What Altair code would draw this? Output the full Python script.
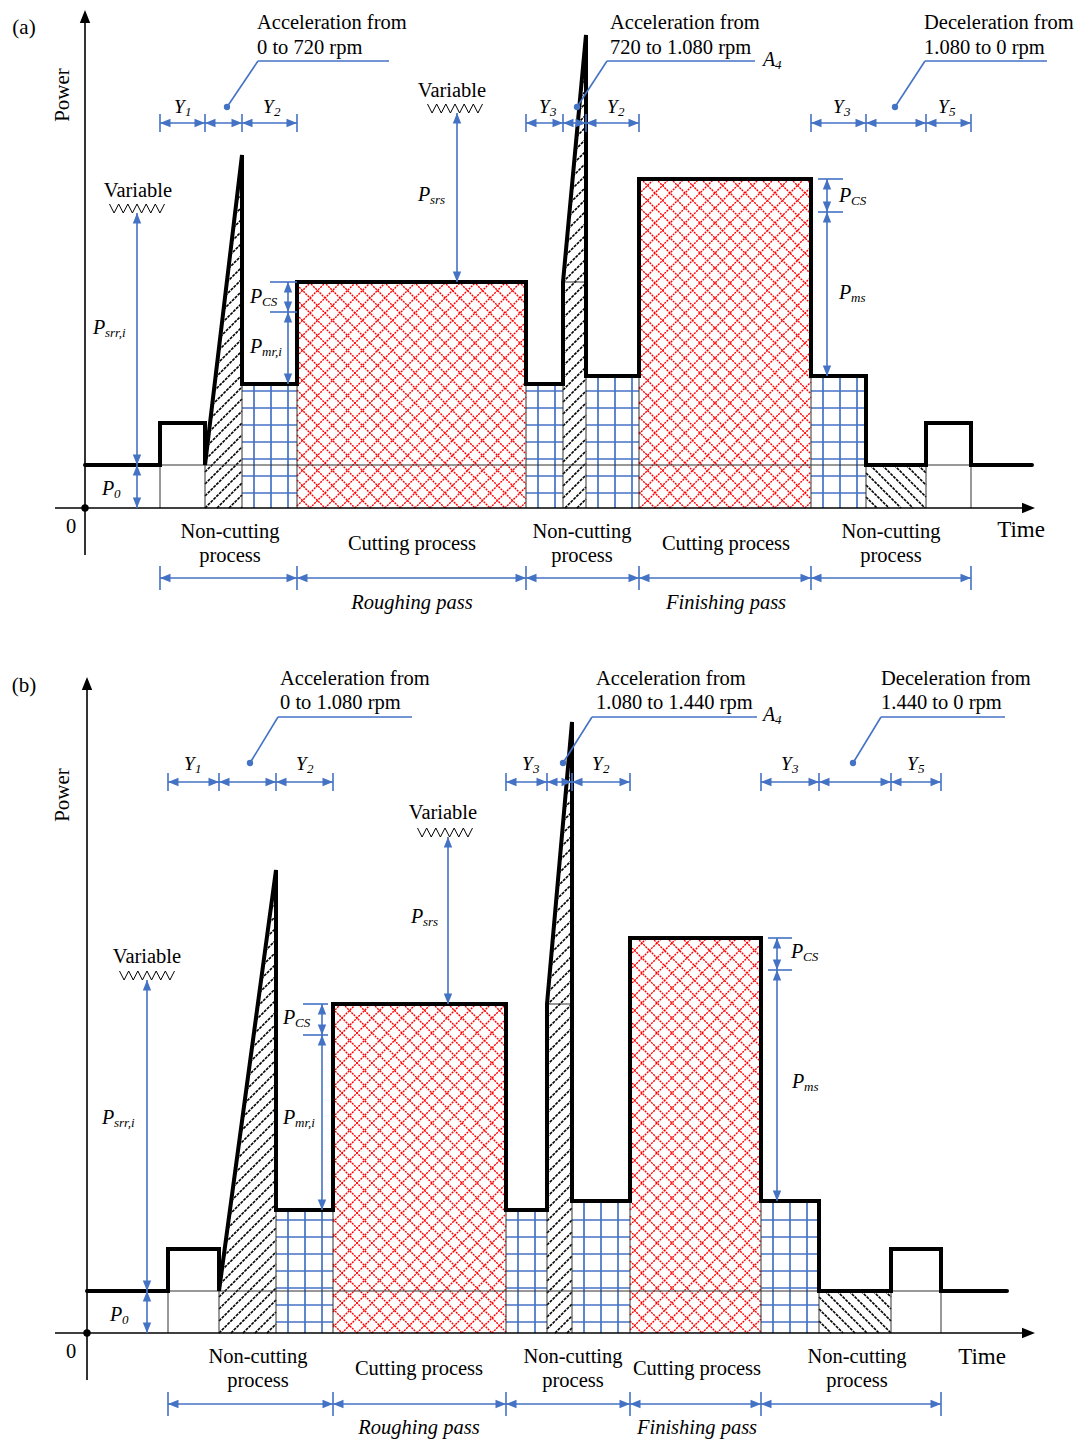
import math
import altair as alt
import pandas as pd

BLUE = "#4472C4"
RED = "#FF0000"
FONT = "Liberation Serif"

# ================= Panel (a) =================
A_BREAKS = [75, 120, 157, 212, 441, 478, 501, 554, 726, 781, 841, 886, 947]
A_LEVELS = {"idle": 43, "bump": 85, "nc_r": 124, "nc_f": 132,
            "rough": 226, "finish": 329, "peak1": 353, "peak2": 473}
A_SPEED_TEXT = [["Acceleration from", "0 to 720 rpm"],
                ["Acceleration from", "720 to 1.080 rpm"],
                ["Deceleration from", "1.080 to 0 rpm"]]

# ================= Panel (b) =================
B_BREAKS = [81, 132, 189, 246, 419, 460, 485, 543, 674, 732, 804, 854, 920]
B_LEVELS = {"idle": 42, "bump": 84, "nc_r": 123, "nc_f": 132,
            "rough": 329, "finish": 395, "peak1": 463, "peak2": 611}
B_SPEED_TEXT = [["Acceleration from", "0 to 1.080 rpm"],
                ["Acceleration from", "1.080 to 1.440 rpm"],
                ["Deceleration from", "1.440 to 0 rpm"]]

Y_SUBS = ["1", "2", "3", "2", "3", "5"]
PROCESS_TEXT = ["Non-cutting|process", "Cutting process", "Non-cutting|process",
                "Cutting process", "Non-cutting|process"]
PASS_TEXT = ["Roughing pass", "Finishing pass"]

A_LAYOUT = dict(
    tag="(a)", tag_pos=(-61, 480), tdom=[-85, 991], pdom=[-152, 508], height=660,
    y_top=498, x_left=-30, x_right=950, y_bottom=-47,
    power_pos=(-22, 413), zero_pos=(-14, -19), time_pos=(936, -22),
    ydim_P=385, ylab_P=401, ylab_t=[98, 187, 463, 531, 757, 862],
    dots_t=[142, 492, 810], dot_P=401, corner_t=[173, 522, 840], leader_P=447,
    leader_end=[304, 670, 962], speed_t=[172, 525, 839], speed_P=[485, 460],
    a4=(678, 448),
    var=[(52, 43, 295, 53, 317), (372, 226, 395, 367, 417)],
    zig_t=[52, 370], p0_arrow=(52, 0, 43),
    lab_p0=(17, 19), lab_srr=(8, 180), lab_srs=(333, 313),
    cs_left=(203, [226, 196, 124], (185, 212)), lab_cs_l=(165, 211), lab_mr=(165, 161),
    cs_right=(742, [329, 296, 132], (733, 758)), lab_cs_r=(754, 312), lab_ms=(754, 215),
    bot_P=-70, proc_t=[145, 327, 497, 641, 806], pass_t=[327, 641], pass_P=-95,
    grid_pphase=15,
)

B_LAYOUT = dict(
    tag="(b)", tag_pos=(-63, 647), tdom=[-87, 989], pdom=[-107, 673], height=780,
    y_top=656, x_left=-32, x_right=948, y_bottom=-47,
    power_pos=(-24, 538), zero_pos=(-16, -19), time_pos=(895, -24),
    ydim_P=551, ylab_P=569, ylab_t=[106, 218, 444, 514, 703, 829],
    dots_t=[163, 476, 766], dot_P=570, corner_t=[191, 505, 794], leader_P=616,
    leader_end=[325, 670, 918], speed_t=[193, 509, 794], speed_P=[654, 630],
    a4=(676, 618),
    var=[(60, 42, 353, 60, 376), (361, 329, 496, 356, 520)],
    zig_t=[60, 358], p0_arrow=(60, 0, 42),
    lab_p0=(23, 18), lab_srr=(15, 215), lab_srs=(324, 416),
    cs_left=(235, [329, 298, 123], (216, 241)), lab_cs_l=(196, 315), lab_mr=(196, 215),
    cs_right=(690, [395, 363, 132], (681, 705)), lab_cs_r=(704, 381), lab_ms=(705, 251),
    bot_P=-71, proc_t=[171, 332, 486, 610, 770], pass_t=[332, 610], pass_P=-95,
    grid_pphase=11,
)

HEAD = "M0,0L-2,-0.8L-2,0.8Z"


def clip_line(poly, p0, d):
    ss = []
    n = len(poly)
    for i in range(n):
        a = poly[i]
        b = poly[(i + 1) % n]
        e = (b[0] - a[0], b[1] - a[1])
        den = d[0] * e[1] - d[1] * e[0]
        if abs(den) < 1e-12:
            continue
        w = (a[0] - p0[0], a[1] - p0[1])
        s = (w[0] * e[1] - w[1] * e[0]) / den
        u = (w[0] * d[1] - w[1] * d[0]) / den
        if -1e-9 <= u <= 1 + 1e-9:
            ss.append(s)
    if len(ss) < 2:
        return None
    s0, s1 = min(ss), max(ss)
    if s1 - s0 < 0.5:
        return None
    return (p0[0] + s0 * d[0], p0[1] + s0 * d[1], p0[0] + s1 * d[0], p0[1] + s1 * d[1])


def hatch(poly, direction, spacing, phase=0.0):
    ts = [p[0] for p in poly]
    ps = [p[1] for p in poly]
    if direction == 1:
        cmin, cmax, d = min(ts) - max(ps), max(ts) - min(ps), (1, 1)
    else:
        cmin, cmax, d = min(ts) + min(ps), max(ts) + max(ps), (1, -1)
    out = []
    k0 = math.floor((cmin - phase) / spacing)
    k1 = math.ceil((cmax - phase) / spacing)
    for k in range(k0, k1 + 1):
        c = phase + k * spacing
        seg = clip_line(poly, (c, 0), d)
        if seg:
            out.append(seg)
    return out


def rect(t0, t1, top):
    return [(t0, 0), (t1, 0), (t1, top), (t0, top)]


def panel(b, L, S):
    tdom, pdom = S["tdom"], S["pdom"]

    def X(f="t"):
        return alt.X(f"{f}:Q", scale=alt.Scale(domain=tdom, nice=False, zero=False), axis=None)

    def Y(f="P"):
        return alt.Y(f"{f}:Q", scale=alt.Scale(domain=pdom, nice=False, zero=False), axis=None)

    def rules(rows, **style):
        df = pd.DataFrame(rows, columns=["t", "P", "t2", "P2"])
        return alt.Chart(df).mark_rule(**style).encode(
            x=X(), y=Y(), x2=alt.X2("t2:Q"), y2=alt.Y2("P2:Q"))

    def heads(rows, color, size):
        df = pd.DataFrame(rows, columns=["t", "P", "ang"])
        return alt.Chart(df).mark_point(
            shape=HEAD, filled=True, size=size, color=color, opacity=1, strokeWidth=0
        ).encode(x=X(), y=Y(), angle=alt.Angle("ang:Q", scale=None))

    def texts(rows, **style):
        df = pd.DataFrame(rows, columns=["txt", "t", "P"])
        st = dict(font=FONT, baseline="middle", color="black")
        st.update(style)
        return alt.Chart(df).mark_text(**st).encode(x=X(), y=Y(), text="txt:N")

    # ---- regions ----
    grid_rects = [(b[2], b[3], L["nc_r"]), (b[4], b[5], L["nc_r"]),
                  (b[6], b[7], L["nc_f"]), (b[8], b[9], L["nc_f"])]
    red_rects = [(b[3], b[4], L["rough"]), (b[7], b[8], L["finish"])]
    ramps = [[(b[1], 0), (b[2], 0), (b[2], L["peak1"]), (b[1], L["idle"])],
             [(b[5], 0), (b[6], 0), (b[6], L["peak2"]), (b[5], L["rough"])]]
    decel = rect(b[9], b[10], L["idle"])

    red_rows = []
    for t0, t1, top in red_rects:
        poly = rect(t0, t1, top)
        red_rows += hatch(poly, 1, 15, 0) + hatch(poly, -1, 15, 0)

    grid_rows = []
    for t0, t1, top in grid_rects:
        t = t0 + 12
        while t < t1 - 3:
            grid_rows.append((t, 0, t, top))
            t += 17
        p = S["grid_pphase"]
        while p < top - 3:
            grid_rows.append((t0, p, t1, p))
            p += 17

    black_rows = []
    for poly in ramps:
        black_rows += hatch(poly, 1, 12, 0)
    dec_rows = hatch(decel, -1, 12, 0)

    thin_rows = [(0, L["idle"], b[12], L["idle"])]
    edge_tops = [L["idle"], L["idle"], L["nc_r"], L["nc_r"], L["nc_r"], L["nc_r"],
                 L["nc_f"], L["nc_f"], L["nc_f"], L["idle"], L["idle"], L["idle"]]
    for i in range(12):
        thin_rows.append((b[i], 0, b[i], edge_tops[i]))
    thin_rows.append((b[5], L["rough"], b[6], L["rough"]))

    # ---- outline ----
    pts = [(0, L["idle"]), (b[0], L["idle"]), (b[0], L["bump"]), (b[1], L["bump"]), (b[1], L["idle"]),
           (b[2], L["peak1"]), (b[2], L["nc_r"]), (b[3], L["nc_r"]), (b[3], L["rough"]),
           (b[4], L["rough"]), (b[4], L["nc_r"]), (b[5], L["nc_r"]), (b[5], L["rough"]),
           (b[6], L["peak2"]), (b[6], L["nc_f"]), (b[7], L["nc_f"]), (b[7], L["finish"]),
           (b[8], L["finish"]), (b[8], L["nc_f"]), (b[9], L["nc_f"]), (b[9], L["idle"]),
           (b[10], L["idle"]), (b[10], L["bump"]), (b[11], L["bump"]), (b[11], L["idle"]), (b[12], L["idle"])]
    out_df = pd.DataFrame([(i, t, p) for i, (t, p) in enumerate(pts)], columns=["i", "t", "P"])

    # ---- annotations ----
    blue_rows, blue_heads = [], []

    def hdim(t0, t1, P):
        blue_rows.append((t0, P, t1, P))
        blue_heads.append((t0, P, 180))
        blue_heads.append((t1, P, 0))

    def vdim(t, p0, p1):
        blue_rows.append((t, p0, t, p1))
        blue_heads.append((t, p0, 90))
        blue_heads.append((t, p1, 270))

    P = S["ydim_P"]
    for g in range(3):
        idx = b[4 * g: 4 * g + 4]
        for k in range(3):
            hdim(idx[k], idx[k + 1], P)
        for tt in idx:
            blue_rows.append((tt, P - 9, tt, P + 9))
    P = S["bot_P"]
    bot_idx = [b[0], b[3], b[4], b[7], b[8], b[11]]
    for k in range(5):
        hdim(bot_idx[k], bot_idx[k + 1], P)
    for tt in bot_idx:
        blue_rows.append((tt, P - 12, tt, P + 12))
    dot_rows = []
    for g in range(3):
        dot_rows.append((S["dots_t"][g], S["dot_P"]))
        blue_rows.append((S["dots_t"][g], S["dot_P"], S["corner_t"][g], S["leader_P"]))
        blue_rows.append((S["corner_t"][g], S["leader_P"], S["leader_end"][g], S["leader_P"]))
    zig_rows = []
    for j, (ta, pb, ptop, tt, pt) in enumerate(S["var"]):
        vdim(ta, pb, ptop)
        zc = S["zig_t"][j]
        n = 12
        w = 55
        for k in range(n + 1):
            zig_rows.append((j, k, zc - w / 2 + w * k / n, ptop + (9 if k % 2 == 0 else 0)))
    t0a, pa, pb_ = S["p0_arrow"]
    vdim(t0a, pa, pb_)
    for key in ("cs_left", "cs_right"):
        ta, lv, (tk0, tk1) = S[key]
        vdim(ta, lv[1], lv[0])
        vdim(ta, lv[2], lv[1])
        blue_rows.append((tk0, lv[0], tk1, lv[0]))
        blue_rows.append((tk0, lv[1], tk1, lv[1]))

    axis_rows = [(0, S["y_bottom"], 0, S["y_top"] - 4), (S["x_left"], 0, S["x_right"] - 4, 0)]
    axis_heads = [(0, S["y_top"], 270), (S["x_right"], 0, 0)]

    upright = []
    for k, txt in enumerate(PROCESS_TEXT):
        parts = txt.split("|")
        if len(parts) == 2:
            upright.append((parts[0], S["proc_t"][k], -24))
            upright.append((parts[1], S["proc_t"][k], -48))
        else:
            upright.append((parts[0], S["proc_t"][k], -36))
    upright.append(("Variable", S["var"][0][3], S["var"][0][4]))
    upright.append(("Variable", S["var"][1][3], S["var"][1][4]))
    upright.append(("0", S["zero_pos"][0], S["zero_pos"][1]))

    speed = []
    for g in range(3):
        for li in range(2):
            speed.append((S["speed_text"][g][li], S["speed_t"][g], S["speed_P"][li]))

    italic_pass = [(PASS_TEXT[k], S["pass_t"][k], S["pass_P"]) for k in range(2)]

    ymain = [("Y", S["ylab_t"][k] - 9, S["ylab_P"]) for k in range(6)]
    ysub = [(Y_SUBS[k], S["ylab_t"][k] - 9, S["ylab_P"]) for k in range(6)]

    plabs = [("srr,i", "lab_srr"), ("0", "lab_p0"), ("srs", "lab_srs"), ("CS", "lab_cs_l"),
             ("mr,i", "lab_mr"), ("CS", "lab_cs_r"), ("ms", "lab_ms")]
    pmain = [("P", S[k][0], S[k][1]) for _, k in plabs] + [("A", S["a4"][0], S["a4"][1])]
    psub = [(s, S[k][0], S[k][1]) for s, k in plabs] + [("4", S["a4"][0], S["a4"][1])]

    zig_df = pd.DataFrame(zig_rows, columns=["g", "k", "t", "P"])
    dots_df = pd.DataFrame(dot_rows, columns=["t", "P"])

    layers = [
        rules(red_rows, color=RED, strokeWidth=1.4, strokeDash=[2, 1]),
        rules(grid_rows, color=BLUE, strokeWidth=1.7),
        rules(black_rows, color="black", strokeWidth=1.6, strokeDash=[3, 1]),
        rules(dec_rows, color="black", strokeWidth=1.6, strokeDash=[3, 1]),
        rules(thin_rows, color="#333333", strokeWidth=1),
        alt.Chart(out_df).mark_line(color="black", strokeWidth=4, strokeJoin="miter",
                                    strokeCap="round").encode(x=X(), y=Y(), order="i:Q"),
        rules(axis_rows, color="black", strokeWidth=1.6),
        heads(axis_heads, "black", 169),
        alt.Chart(pd.DataFrame([(0, 0)], columns=["t", "P"])).mark_circle(
            size=55, color="black", opacity=1).encode(x=X(), y=Y()),
        rules(blue_rows, color=BLUE, strokeWidth=1.6),
        heads(blue_heads, BLUE, 110),
        alt.Chart(dots_df).mark_circle(size=40, color=BLUE, opacity=1).encode(x=X(), y=Y()),
        alt.Chart(zig_df).mark_line(color="black", strokeWidth=1).encode(
            x=X(), y=Y(), detail="g:N", order="k:Q"),
        texts(upright, fontSize=20.5, align="center"),
        texts([("Time", S["time_pos"][0], S["time_pos"][1])], fontSize=23, align="center"),
        texts([(S["tag"], S["tag_pos"][0], S["tag_pos"][1])], fontSize=21, align="center"),
        texts([("Power", S["power_pos"][0], S["power_pos"][1])], fontSize=21, align="center", angle=270),
        texts(speed, fontSize=20.5, align="left"),
        texts(italic_pass, fontSize=20.5, align="center", fontStyle="italic"),
        texts(ymain, fontSize=19, align="left", fontStyle="italic"),
        texts(ysub, fontSize=13, align="left", fontStyle="italic", dx=11, dy=5),
        texts(pmain, fontSize=20, align="left", fontStyle="italic"),
        texts(psub, fontSize=13, align="left", fontStyle="italic", dx=12, dy=5),
    ]
    return alt.layer(*layers).properties(width=1076, height=S["height"])


chart_a = panel(A_BREAKS, A_LEVELS, dict(A_LAYOUT, speed_text=A_SPEED_TEXT))
chart_b = panel(B_BREAKS, B_LEVELS, dict(B_LAYOUT, speed_text=B_SPEED_TEXT))

chart = alt.vconcat(chart_a, chart_b, spacing=0).resolve_scale(
    x="independent", y="independent"
).configure_view(stroke=None).properties(padding=0, background="white")

chart.save("out.html", embed_options={"renderer": "svg", "actions": False})
